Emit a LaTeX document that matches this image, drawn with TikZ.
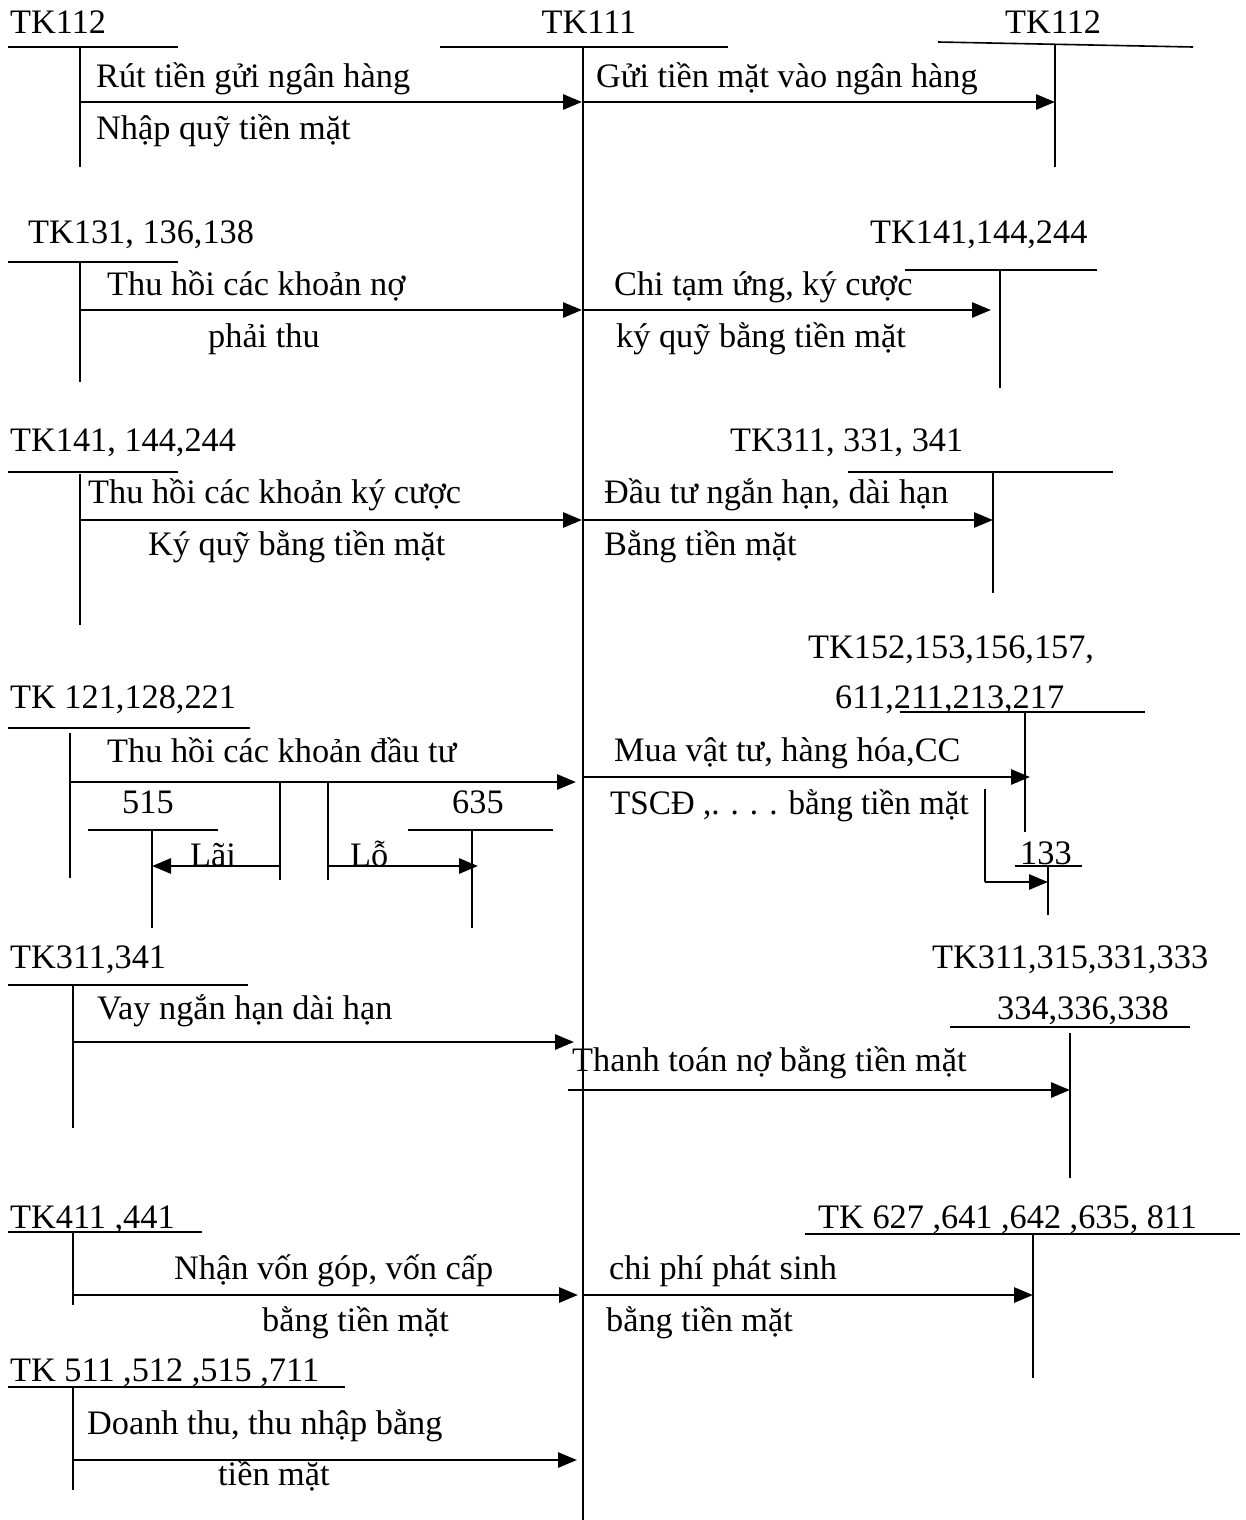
\documentclass[tikz,border=0pt]{standalone}
\usepackage{fontspec}
\setmainfont{Liberation Serif}
\usetikzlibrary{arrows.meta}
\begin{document}
\begin{tikzpicture}[x=1pt,y=-1pt,
  lbl/.style={anchor=base west,inner sep=0pt,font=\fontsize{34.3}{40}\selectfont},
  tl/.style={line width=1.6pt},
  arr/.style={line width=2.8pt,-{Triangle[length=19pt,width=15pt]}}]
\useasboundingbox[fill=white] (0,0) rectangle (1246,1520);

% ===== main account TK111 =====
\node[lbl,anchor=base] (t111) at (589,34) {TK111};
\coordinate (m0) at (583,47); \coordinate (m1) at (583,1520);
\draw[tl] (440,47) -- (728,47);
\draw[tl] (m0) -- (m1);

% ===== block 1 =====
\node[lbl] (l112) at (10,34) {TK112};
\draw[tl] (8,47) -- (178,47);
\coordinate (v1a) at (80,47); \coordinate (v1b) at (80,167);
\draw[tl] (v1a) -- (v1b);
\node[lbl] (t1a) at (96,88) {Rút tiền gửi ngân hàng};
\node[lbl] (t1b) at (96,139) {Nhập quỹ tiền mặt};
\coordinate (a1s) at (80,102); \coordinate (a1e) at (582,102);
\draw[arr] (a1s) -- (a1e);

\node[lbl] (r112) at (1005,34) {TK112};
\draw[tl] (938,42) -- (1193,47);
\coordinate (w1a) at (1055,45); \coordinate (w1b) at (1055,167);
\draw[tl] (w1a) -- (w1b);
\node[lbl] (t1c) at (596,88) {Gửi tiền mặt vào ngân hàng};
\coordinate (b1s) at (583,102); \coordinate (b1e) at (1055,102);
\draw[arr] (b1s) -- (b1e);

% ===== block 2 =====
\node[lbl] (l131) at (28,243) {TK131, 136,138};
\draw[tl] (8,262) -- (178,262);
\coordinate (v2a) at (80,262); \coordinate (v2b) at (80,382);
\draw[tl] (v2a) -- (v2b);
\node[lbl] (t2a) at (107,295) {Thu hồi các khoản nợ};
\node[lbl] (t2b) at (208,347) {phải thu};
\coordinate (a2s) at (80,310); \coordinate (a2e) at (582,310);
\draw[arr] (a2s) -- (a2e);

\node[lbl] (r141) at (870,243) {TK141,144,244};
\draw[tl] (905,270) -- (1097,270);
\coordinate (w2a) at (1000,270); \coordinate (w2b) at (1000,388);
\draw[tl] (w2a) -- (w2b);
\node[lbl] (t2c) at (614,295) {Chi tạm ứng, ký cược};
\node[lbl] (t2d) at (616,347) {ký quỹ bằng tiền mặt};
\coordinate (b2s) at (583,310); \coordinate (b2e) at (991,310);
\draw[arr] (b2s) -- (b2e);

% ===== block 3 =====
\node[lbl] (l141) at (10,451) {TK141, 144,244};
\draw[tl] (8,472) -- (178,472);
\coordinate (v3a) at (80,474); \coordinate (v3b) at (80,625);
\draw[tl] (v3a) -- (v3b);
\node[lbl] (t3a) at (88,503) {Thu hồi các khoản ký cược};
\node[lbl] (t3b) at (148,555) {Ký quỹ bằng tiền mặt};
\coordinate (a3s) at (80,520); \coordinate (a3e) at (582,520);
\draw[arr] (a3s) -- (a3e);

\node[lbl] (r311) at (730,451) {TK311, 331, 341};
\draw[tl] (848,472) -- (1113,472);
\coordinate (w3a) at (993,472); \coordinate (w3b) at (993,593);
\draw[tl] (w3a) -- (w3b);
\node[lbl] (t3c) at (604,503) {Đầu tư ngắn hạn, dài hạn};
\node[lbl] (t3d) at (604,555) {Bằng tiền mặt};
\coordinate (b3s) at (583,520); \coordinate (b3e) at (993,520);
\draw[arr] (b3s) -- (b3e);

% ===== block 4 =====
\node[lbl] (l121) at (10,708) {TK 121,128,221};
\draw[tl] (8,728) -- (250,728);
\coordinate (v4a) at (70,733); \coordinate (v4b) at (70,878);
\draw[tl] (v4a) -- (v4b);
\node[lbl] (t4a) at (107,762) {Thu hồi các khoản đầu tư};
\coordinate (a4s) at (70,782); \coordinate (a4e) at (576,782);
\draw[arr] (a4s) -- (a4e);

\node[lbl] (n515) at (122,813) {515};
\draw[tl] (88,830) -- (218,830);
\coordinate (p5a) at (152,830); \coordinate (p5b) at (152,928);
\draw[tl] (p5a) -- (p5b);
\coordinate (q1a) at (280,782); \coordinate (q1b) at (280,880);
\draw[tl] (q1a) -- (q1b);
\node[lbl] (lai) at (190,866) {Lãi};
\coordinate (c1s) at (280,866); \coordinate (c1e) at (152,866);
\draw[arr] (c1s) -- (c1e);

\node[lbl] (n635) at (452,813) {635};
\draw[tl] (408,830) -- (553,830);
\coordinate (p6a) at (472,830); \coordinate (p6b) at (472,928);
\draw[tl] (p6a) -- (p6b);
\coordinate (q2a) at (328,782); \coordinate (q2b) at (328,880);
\draw[tl] (q2a) -- (q2b);
\node[lbl] (lo) at (350,866) {Lỗ};
\coordinate (c2s) at (328,866); \coordinate (c2e) at (478,866);
\draw[arr] (c2s) -- (c2e);

\node[lbl] (r152) at (808,658) {TK152,153,156,157,};
\node[lbl] (r611) at (835,708) {611,211,213,217};
\draw[tl] (900,712) -- (1145,712);
\coordinate (w4a) at (1025,712); \coordinate (w4b) at (1025,832);
\draw[tl] (w4a) -- (w4b);
\node[lbl] (t4c) at (614,761) {Mua vật tư, hàng hóa,CC};
\node[lbl,xscale=0.965,transform shape] (t4d) at (610,814) {TSCĐ ,. . . . bằng tiền mặt};
\coordinate (b4s) at (583,777); \coordinate (b4e) at (1030,777);
\draw[arr] (b4s) -- (b4e);

\node[lbl] (n133) at (1020,864) {133};
\draw[tl] (1015,866) -- (1082,866);
\coordinate (w5a) at (1048,866); \coordinate (w5b) at (1048,915);
\draw[tl] (w5a) -- (w5b);
\coordinate (d0) at (985,789); \coordinate (d1) at (985,882); \coordinate (d2) at (1048,882);
\draw[tl] (d0) -- (d1);
\draw[arr] (d1) -- (d2);

% ===== block 5 =====
\node[lbl] (l311) at (10,968) {TK311,341};
\draw[tl] (8,985) -- (248,985);
\coordinate (v5a) at (73,985); \coordinate (v5b) at (73,1128);
\draw[tl] (v5a) -- (v5b);
\node[lbl] (t5a) at (97,1019) {Vay ngắn hạn dài hạn};
\coordinate (a5s) at (73,1042); \coordinate (a5e) at (574,1042);
\draw[arr] (a5s) -- (a5e);

\node[lbl] (r3113) at (932,968) {TK311,315,331,333};
\node[lbl] (r334) at (997,1019) {334,336,338};
\draw[tl] (950,1027) -- (1190,1027);
\coordinate (w6a) at (1070,1033); \coordinate (w6b) at (1070,1178);
\draw[tl] (w6a) -- (w6b);
\node[lbl] (t5b) at (572,1071) {Thanh toán nợ bằng tiền mặt};
\coordinate (b5s) at (568,1090); \coordinate (b5e) at (1070,1090);
\draw[arr] (b5s) -- (b5e);

% ===== block 6 =====
\node[lbl] (l411) at (10,1228) {TK411 ,441};
\draw[tl] (8,1232) -- (202,1232);
\coordinate (v6a) at (73,1232); \coordinate (v6b) at (73,1305);
\draw[tl] (v6a) -- (v6b);
\node[lbl] (t6a) at (174,1279) {Nhận vốn góp, vốn cấp};
\node[lbl] (t6b) at (262,1331) {bằng tiền mặt};
\coordinate (a6s) at (73,1295); \coordinate (a6e) at (578,1295);
\draw[arr] (a6s) -- (a6e);

\node[lbl] (r627) at (818,1228) {TK 627 ,641 ,642 ,635, 811};
\draw[tl] (805,1234) -- (1240,1234);
\coordinate (w7a) at (1033,1234); \coordinate (w7b) at (1033,1378);
\draw[tl] (w7a) -- (w7b);
\node[lbl] (t6c) at (609,1279) {chi phí phát sinh};
\node[lbl] (t6d) at (606,1331) {bằng tiền mặt};
\coordinate (b6s) at (583,1295); \coordinate (b6e) at (1033,1295);
\draw[arr] (b6s) -- (b6e);

% ===== block 7 =====
\node[lbl] (l511) at (10,1381) {TK 511 ,512 ,515 ,711};
\draw[tl] (8,1387) -- (345,1387);
\coordinate (v7a) at (73,1387); \coordinate (v7b) at (73,1490);
\draw[tl] (v7a) -- (v7b);
\node[lbl] (t7a) at (87,1434) {Doanh thu, thu nhập bằng};
\node[lbl] (t7b) at (218,1485) {tiền mặt};
\coordinate (a7s) at (73,1460); \coordinate (a7e) at (577,1460);
\draw[arr] (a7s) -- (a7e);
\end{tikzpicture}
\end{document}
